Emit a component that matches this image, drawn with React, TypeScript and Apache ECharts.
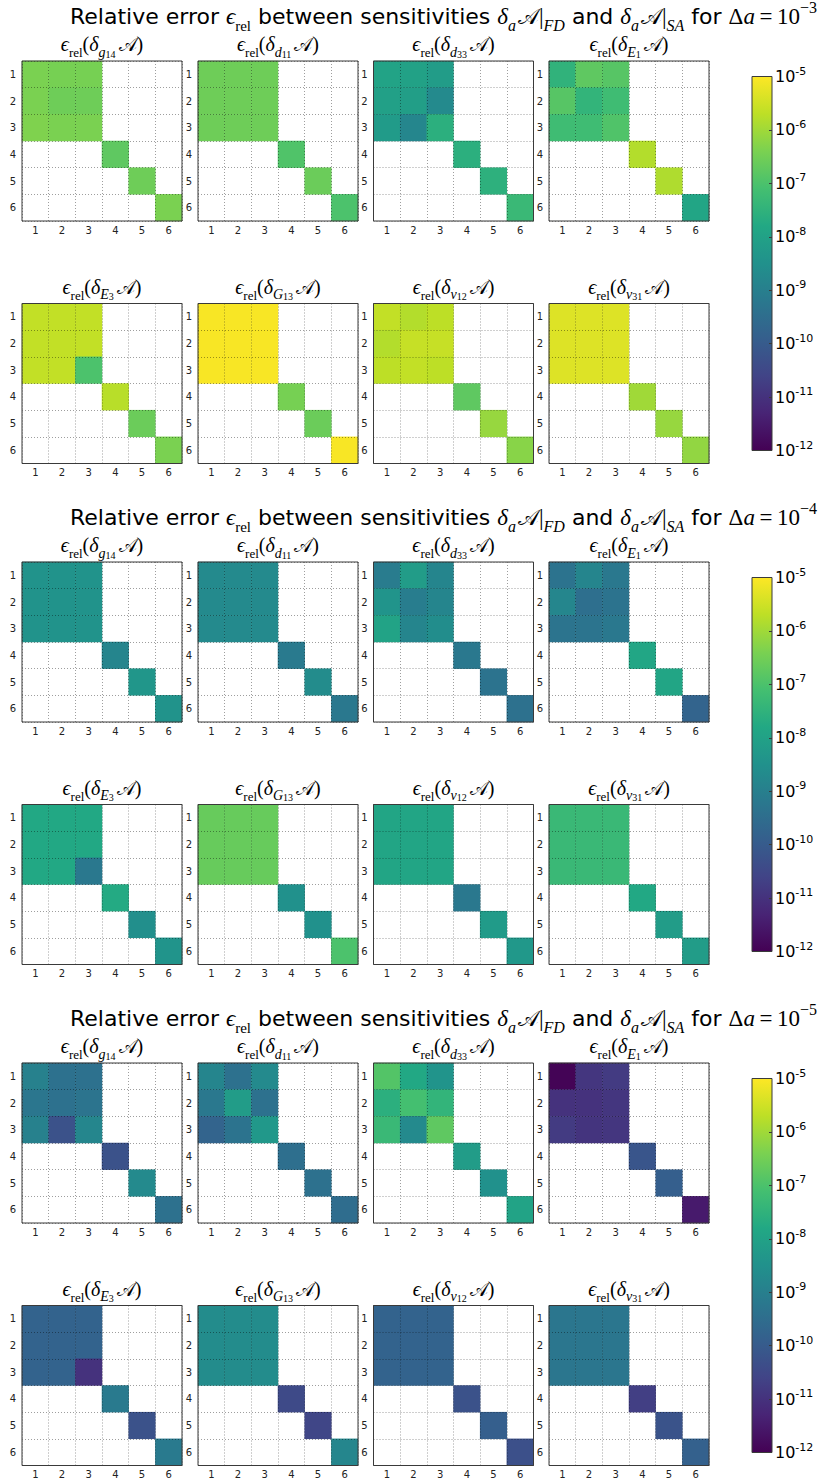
import React, { useEffect, useRef } from "react";
import * as echarts from "echarts";

// Matrix indices shown on both axes
const indexLabels = ["1", "2", "3", "4", "5", "6"];

// Material parameters a (symbol + subscript)
const paramSymbols = ["g", "d", "d", "E", "E", "G", "ν", "ν"];
const paramIndices = ["14", "11", "33", "1", "3", "13", "12", "31"];

// Finite-difference step exponents, one figure section each
const stepExponents = ["−3", "−4", "−5"];

// Colorbar range: log10 of relative error
const logMin = -12;
const logMax = -5;

// log10(eps_rel) on the coupled 3x3 block, per parameter, Δa = 1e-3
const blockDa3 = [
  [[-6.4, -6.45, -6.45], [-6.4, -6.55, -6.55], [-6.35, -6.4, -6.4]],
  [[-6.55, -6.55, -6.55], [-6.55, -6.55, -6.55], [-6.55, -6.55, -6.55]],
  [[-7.95, -8.0, -8.15], [-8.05, -8.1, -8.7], [-8.2, -8.8, -7.6]],
  [[-7.5, -6.75, -6.85], [-6.85, -7.45, -7.2], [-7.2, -7.2, -6.95]],
  [[-5.65, -5.65, -5.65], [-5.65, -5.65, -5.65], [-5.65, -5.65, -7.0]],
  [[-5.05, -5.05, -5.05], [-5.05, -5.05, -5.05], [-5.05, -5.05, -5.05]],
  [[-5.65, -5.8, -5.7], [-5.8, -5.6, -5.6], [-5.7, -5.65, -5.7]],
  [[-5.35, -5.35, -5.35], [-5.35, -5.35, -5.35], [-5.35, -5.35, -5.35]],
];
// log10(eps_rel) on the diagonal entries (4,4), (5,5), (6,6), Δa = 1e-3
const diagDa3 = [
  [-6.75, -6.55, -6.4],
  [-6.95, -6.6, -7.0],
  [-7.6, -7.55, -7.3],
  [-5.8, -5.85, -7.9],
  [-5.75, -6.6, -6.4],
  [-6.45, -6.6, -5.05],
  [-6.75, -6.1, -6.25],
  [-6.0, -6.1, -6.15],
];

// Δa = 1e-4
const blockDa4 = [
  [[-8.45, -8.45, -8.45], [-8.45, -8.45, -8.45], [-8.45, -8.45, -8.45]],
  [[-8.7, -8.7, -8.7], [-8.7, -8.7, -8.7], [-8.7, -8.7, -8.7]],
  [[-9.1, -8.15, -8.85], [-8.4, -9.05, -8.85], [-7.95, -8.85, -8.6]],
  [[-9.35, -8.85, -9.2], [-8.8, -9.45, -9.35], [-9.3, -9.3, -9.2]],
  [[-7.8, -7.8, -7.8], [-7.8, -7.8, -7.8], [-7.8, -7.8, -9.2]],
  [[-6.65, -6.65, -6.65], [-6.65, -6.65, -6.65], [-6.65, -6.65, -6.65]],
  [[-7.9, -7.9, -7.9], [-7.9, -7.9, -7.9], [-7.9, -7.9, -7.9]],
  [[-7.3, -7.3, -7.3], [-7.3, -7.3, -7.3], [-7.3, -7.3, -7.3]],
];
const diagDa4 = [
  [-8.85, -8.35, -8.45],
  [-9.15, -8.65, -9.2],
  [-9.2, -9.35, -9.4],
  [-7.85, -7.9, -9.75],
  [-7.75, -8.55, -8.4],
  [-8.5, -8.5, -7.0],
  [-9.2, -8.2, -8.3],
  [-7.8, -8.15, -8.15],
];

// Δa = 1e-5
const blockDa5 = [
  [[-8.95, -9.4, -9.4], [-9.25, -9.4, -9.3], [-8.95, -10.25, -8.8]],
  [[-8.85, -9.4, -8.7], [-9.2, -8.15, -9.4], [-9.75, -9.35, -8.3]],
  [[-6.9, -7.8, -8.4], [-7.6, -7.1, -7.45], [-7.3, -8.7, -6.75]],
  [[-11.95, -10.9, -10.8], [-11.0, -11.0, -10.9], [-10.8, -10.95, -10.9]],
  [[-9.8, -9.8, -9.8], [-9.8, -9.8, -9.8], [-9.8, -9.8, -11.0]],
  [[-8.65, -8.65, -8.65], [-8.65, -8.65, -8.65], [-8.65, -8.65, -8.65]],
  [[-9.8, -9.8, -9.8], [-9.8, -9.8, -9.8], [-9.8, -9.8, -9.8]],
  [[-9.25, -9.25, -9.25], [-9.25, -9.25, -9.25], [-9.25, -9.25, -9.25]],
];
const diagDa5 = [
  [-10.25, -8.7, -9.4],
  [-9.45, -9.4, -9.5],
  [-8.15, -8.5, -7.95],
  [-10.15, -9.9, -11.5],
  [-9.15, -10.25, -9.15],
  [-10.45, -10.55, -8.8],
  [-10.25, -9.9, -10.3],
  [-10.7, -10.2, -9.85],
];

const sectionBlocks = [blockDa3, blockDa4, blockDa5];
const sectionDiags = [diagDa3, diagDa4, diagDa5];

// viridis, evenly spaced stops
const viridis = [
  "#440154", "#482475", "#414487", "#355f8d", "#2a788e", "#21918c",
  "#22a884", "#44bf70", "#7ad151", "#bddf26", "#fde725",
];

const SANS = "'DejaVu Sans', 'Noto Sans', sans-serif";
const SERIF = "'Liberation Serif', 'DejaVu Serif', serif";
const CAL = "'DejaVu Serif', 'Noto Sans', 'Liberation Serif', serif";

// layout of the panels
const colLeft = [22, 198, 373.5, 549];
const panelSize = 160;
const sectionShift = 501;
const rowShift = 242.5;
const firstTop = 61;

function panelData(block: number[][], diag: number[]) {
  const out: number[][] = [];
  for (let r = 0; r < 3; r++) {
    for (let c = 0; c < 3; c++) out.push([c, r, block[r][c]]);
  }
  for (let k = 0; k < 3; k++) out.push([3 + k, 3 + k, diag[k]]);
  return out;
}

const panelRich = {
  m: { fontFamily: SERIF, fontStyle: "italic", fontSize: 20, lineHeight: 30, color: "#000" },
  r: { fontFamily: SERIF, fontSize: 20, lineHeight: 30, color: "#000" },
  cal: { fontFamily: CAL, fontSize: 19, lineHeight: 30, padding: [0, 0, 0, 3], color: "#000" },
  s: { fontFamily: SERIF, fontSize: 13, lineHeight: 20, verticalAlign: "bottom", color: "#000" },
  si: { fontFamily: SERIF, fontStyle: "italic", fontSize: 14, lineHeight: 20, verticalAlign: "bottom", color: "#000" },
  ss: { fontFamily: SERIF, fontSize: 10, lineHeight: 13, verticalAlign: "bottom", color: "#000" },
};

const mainRich = {
  t: { fontFamily: SANS, fontSize: 22, lineHeight: 34, color: "#000" },
  m: { fontFamily: SERIF, fontStyle: "italic", fontSize: 23, lineHeight: 34, color: "#000" },
  r: { fontFamily: SERIF, fontSize: 23, lineHeight: 34, color: "#000" },
  cal: { fontFamily: CAL, fontSize: 22, lineHeight: 34, padding: [0, 0, 0, 2], color: "#000" },
  s: { fontFamily: SERIF, fontSize: 15, lineHeight: 22, verticalAlign: "bottom", color: "#000" },
  si: { fontFamily: SERIF, fontStyle: "italic", fontSize: 16, lineHeight: 22, verticalAlign: "bottom", color: "#000" },
  sup: { fontFamily: SERIF, fontSize: 16, lineHeight: 17, verticalAlign: "top", color: "#000" },
};

function buildOption() {
  const grid: any[] = [];
  const xAxis: any[] = [];
  const yAxis: any[] = [];
  const series: any[] = [];
  const graphic: any[] = [];

  for (let s = 0; s < 3; s++) {
    const base = s * sectionShift;
    graphic.push({
      type: "text",
      x: 70,
      y: 16 + base,
      z: 100,
      style: {
        text:
          "{t|Relative error }{m|ϵ}{s|rel}{t| between sensitivities }{m|δ}{si|a}{cal|𝒜}{r||}{si|FD}" +
          "{t| and }{m|δ}{si|a}{cal|𝒜}{r||}{si|SA}{t| for }{r|Δ}{m|a}{r|\u2009=\u200910}{sup|" +
          stepExponents[s] +
          "}",
        rich: mainRich,
        align: "left",
        verticalAlign: "middle",
        textAlign: "left",
        textVerticalAlign: "middle",
      },
    });

    for (let p = 0; p < 8; p++) {
      const row = Math.floor(p / 4);
      const col = p % 4;
      const top = firstTop + base + row * rowShift;
      const left = colLeft[col];
      const gi = grid.length;
      grid.push({
        left,
        top,
        width: panelSize,
        height: panelSize,
        show: true,
        borderColor: "#3a3a3a",
        borderWidth: 1,
        backgroundColor: "rgba(255,255,255,0)",
        z: 10,
        outerBoundsMode: "none",
        containLabel: false,
      });
      const axisCommon = {
        type: "category",
        gridIndex: gi,
        data: indexLabels,
        z: 5,
        axisLine: { show: false },
        axisTick: { show: false },
        splitLine: {
          show: true,
          lineStyle: { color: "rgba(0,0,0,0.38)", type: [1, 2], width: 1 },
        },
        axisLabel: { fontFamily: SANS, fontSize: 10, color: "#222" },
      };
      xAxis.push({ ...axisCommon, position: "bottom", axisLabel: { ...axisCommon.axisLabel, margin: 4 } });
      yAxis.push({ ...axisCommon, inverse: true, position: "left", axisLabel: { ...axisCommon.axisLabel, margin: 6 } });
      series.push({
        type: "heatmap",
        xAxisIndex: gi,
        yAxisIndex: gi,
        data: panelData(sectionBlocks[s][p], sectionDiags[s][p]),
        z: 2,
        emphasis: { disabled: true },
      });

      graphic.push({
        type: "text",
        x: left + panelSize / 2,
        y: top - 17,
        z: 100,
        style: {
          text:
            "{m|ϵ}{s|rel}{r|(}{m|δ}{si|" + paramSymbols[p] + "}{ss|" + paramIndices[p] + "}{cal|𝒜}{r|)}",
          rich: panelRich,
          align: "center",
          verticalAlign: "middle",
          textAlign: "center",
          textVerticalAlign: "middle",
        },
      });
    }
  }

  const heatCount = series.length;

  // colorbars
  for (let s = 0; s < 3; s++) {
    const gi = grid.length;
    grid.push({
      left: 752,
      top: 76.5 + s * sectionShift,
      width: 20,
      height: 374,
      show: true,
      borderColor: "#3a3a3a",
      borderWidth: 1,
      backgroundColor: new echarts.graphic.LinearGradient(
        0, 1, 0, 0,
        viridis.map((c, i) => ({ offset: i / (viridis.length - 1), color: c }))
      ),
      outerBoundsMode: "none",
      containLabel: false,
    });
    xAxis.push({ type: "category", gridIndex: gi, data: [""], show: false });
    yAxis.push({
      type: "value",
      gridIndex: gi,
      min: logMin,
      max: logMax,
      interval: 1,
      position: "right",
      z: 5,
      axisLine: { show: false },
      splitLine: { show: false },
      axisTick: { show: true, inside: true, length: 3, lineStyle: { color: "#3a3a3a" } },
      axisLabel: {
        margin: 3,
        formatter: (v: number) => "{b|10}{e|" + String(v) + "}",
        rich: {
          b: { fontFamily: SANS, fontSize: 16, lineHeight: 22, color: "#000" },
          e: { fontFamily: SANS, fontSize: 11, lineHeight: 11, verticalAlign: "top", color: "#000" },
        },
      },
    });
  }

  return {
    animation: false,
    backgroundColor: "#ffffff",
    grid,
    xAxis,
    yAxis,
    visualMap: {
      type: "continuous",
      show: false,
      min: logMin,
      max: logMax,
      dimension: 2,
      seriesIndex: Array.from({ length: heatCount }, (_, i) => i),
      inRange: { color: viridis },
    },
    series,
    graphic,
  };
}

export default function App() {
  const ref = useRef<HTMLDivElement>(null);
  useEffect(() => {
    const chart = echarts.init(ref.current!, null, { renderer: "svg" });
    chart.setOption(buildOption() as any);
    return () => chart.dispose();
  }, []);
  return (
    <div
      ref={ref}
      style={{ position: "absolute", left: 0, top: 0, width: 823, height: 1479, background: "#fff" }}
    />
  );
}
